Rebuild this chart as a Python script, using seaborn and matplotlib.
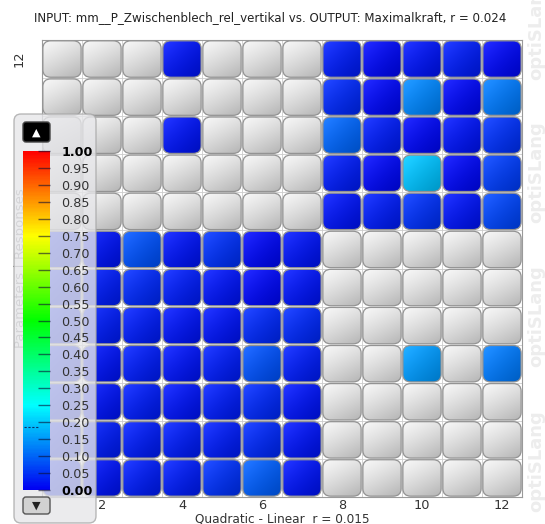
import numpy as np
import pandas as pd
import matplotlib
matplotlib.use("Agg")
import matplotlib.pyplot as plt
import seaborn as sns
from matplotlib.colors import LinearSegmentedColormap
from matplotlib.patches import FancyBboxPatch

# ---------------- data (None = gray / filtered cell) ----------------
col_labels = [str(c) for c in range(1, 13)]
row_labels = [str(r) for r in range(12, 0, -1)]   # top row first

row_12 = [None, None, None, 0.02, None, None, None, 0.03, 0.01, 0.02, 0.03, 0.01]
row_11 = [None, None, None, None, None, None, None, 0.04, 0.01, 0.13, 0.01, 0.12]
row_10 = [None, None, None, 0.02, None, None, None, 0.10, 0.03, 0.01, 0.02, 0.05]
row_9 = [None, None, None, None, None, None, None, 0.03, 0.01, 0.19, 0.01, 0.06]
row_8 = [None, None, None, None, None, None, None, 0.02, 0.03, 0.05, 0.02, 0.07]
row_7 = [0.03, 0.02, 0.08, 0.02, 0.05, 0.01, 0.02, None, None, None, None, None]
row_6 = [0.03, 0.03, 0.04, 0.03, 0.02, 0.01, 0.02, None, None, None, None, None]
row_5 = [0.03, 0.03, 0.03, 0.02, 0.02, 0.04, 0.04, None, None, None, None, None]
row_4 = [0.03, 0.02, 0.03, 0.02, 0.03, 0.08, 0.03, None, None, 0.15, None, 0.12]
row_3 = [0.03, 0.02, 0.03, 0.02, 0.03, 0.04, 0.02, None, None, None, None, None]
row_2 = [0.03, 0.03, 0.03, 0.03, 0.03, 0.04, 0.02, None, None, None, None, None]
row_1 = [0.03, 0.02, 0.03, 0.03, 0.05, 0.09, 0.02, None, None, None, None, None]

cbar_ticks = [round(0.05 * k, 2) for k in range(21)]
threshold = 0.186

title = "INPUT: mm__P_Zwischenblech_rel_vertikal vs. OUTPUT: Maximalkraft, r = 0.024"
xlabel = "Quadratic - Linear  r = 0.015"
ylabel = "Parameters | Responses"

rows = [row_12, row_11, row_10, row_9, row_8, row_7,
        row_6, row_5, row_4, row_3, row_2, row_1]
df = pd.DataFrame([[np.nan if v is None else v for v in r] for r in rows],
                  index=row_labels, columns=col_labels)

# hue-linear blue -> cyan -> green -> yellow -> red
cmap = LinearSegmentedColormap.from_list(
    "optislang",
    [(0.0, (0.0, 0.0, 0.95)), (0.25, (0.0, 1.0, 1.0)), (0.5, (0.0, 1.0, 0.0)),
     (0.75, (1.0, 1.0, 0.0)), (1.0, (1.0, 0.0, 0.0))])

W, H = 545, 524
fig = plt.figure(figsize=(W / 100, H / 100), dpi=100)
fig.patch.set_facecolor("white")
ax = fig.add_axes([42 / W, 27 / H, 480 / W, 457 / H])

sns.heatmap(df, ax=ax, cmap=cmap, vmin=0, vmax=1, cbar=False,
            mask=df.isna(), xticklabels=col_labels, yticklabels=row_labels)
mesh = ax.collections[0]
mesh.set_visible(False)
ax.set_facecolor("white")

nrows, ncols = df.shape
vals = df.values
inset = 0.022
uu, vv = np.meshgrid(np.linspace(0, 1, 24), np.linspace(0, 1, 24))
tt = (uu + vv) / 2.0

for i in range(nrows):
    for j in range(ncols):
        val = vals[i, j]
        patch = FancyBboxPatch((j + inset, i + inset), 1 - 2 * inset, 1 - 2 * inset,
                               boxstyle="round,pad=0,rounding_size=0.2",
                               facecolor="none", edgecolor="#939393",
                               linewidth=0.9, zorder=4)
        ax.add_patch(patch)
        if np.isnan(val):
            g = 0.975 - 0.27 * (0.65 * vv + 0.35 * uu) ** 1.2
            img = np.dstack([g, g, g])
        else:
            c = np.array(mesh.to_rgba(val)[:3])
            shade = (1.08 - 0.3 * tt)[..., None]
            hl = (0.16 * (1 - tt) ** 2)[..., None]
            img = np.clip(c[None, None, :] * shade + (1 - c[None, None, :]) * hl, 0, 1)
        im = ax.imshow(img, extent=(j, j + 1, i + 1, i), origin="upper",
                       interpolation="bilinear", aspect="auto", zorder=3)
        im.set_clip_path(patch)

# faint grid lines through cell joins
for k in range(1, ncols):
    ax.axvline(k, color="#cccccc", lw=0.6, zorder=1)
for k in range(1, nrows):
    ax.axhline(k, color="#cccccc", lw=0.6, zorder=1)

ax.set_xlim(0, ncols)
ax.set_ylim(nrows, 0)
for s in ax.spines.values():
    s.set_visible(True)
    s.set_color("#9a9a9a")
    s.set_linewidth(0.8)

ax.set_xticks(np.arange(1, ncols, 2) + 0.5)
ax.set_xticklabels(col_labels[1::2], rotation=0)
ax.set_yticks([0.5])
ax.set_yticklabels(row_labels[:1], rotation=90, va="center")
ax.tick_params(axis="x", length=0, pad=1.5, labelsize=9.3, labelcolor="#333333")
ax.tick_params(axis="y", length=0, pad=12, labelsize=9.3, labelcolor="#333333")
ax.set_xlabel(xlabel, fontsize=8.7, color="#333333")
ax.xaxis.set_label_coords(0.5, -0.034)
ax.set_ylabel(ylabel, fontsize=9.5, color="#8a8a8a")
ax.yaxis.set_label_coords(-0.032, 0.5)

fig.text(270 / W, 1 - 18 / H, title, ha="center", va="center",
         fontsize=8.6, color="#222222")

# watermark
for yb in [80, 223, 367, 512]:
    fig.text(536 / W, 1 - yb / H, "optiSLang", rotation=90, ha="center",
             va="bottom", fontsize=13, fontweight="bold", color="#ededed")

# translucent legend panel (inch coords)
inch = fig.dpi_scale_trans
def px(x, y):
    return (x / 100, (H - y) / 100)

panel = FancyBboxPatch(px(14, 523), 82 / 100, 409 / 100,
                       boxstyle="round,pad=0,rounding_size=0.07",
                       transform=inch, facecolor=(0.90, 0.90, 0.915),
                       alpha=0.8, edgecolor="#a8a8a8", linewidth=1.0, zorder=5)
fig.patches.append(panel)
panel.set_figure(fig)

up = FancyBboxPatch(px(23, 142), 27 / 100, 20 / 100,
                    boxstyle="round,pad=0,rounding_size=0.03",
                    transform=inch, facecolor="black", edgecolor="#444444",
                    linewidth=1.0, zorder=6)
fig.patches.append(up)
up.set_figure(fig)
fig.text(36.5 / W, 1 - 132.5 / H, "\u25B2", ha="center", va="center",
         fontsize=8, color="white", zorder=7)

down = FancyBboxPatch(px(23, 514), 27 / 100, 17 / 100,
                      boxstyle="round,pad=0,rounding_size=0.03",
                      transform=inch, facecolor="#d2d2d2", edgecolor="#555555",
                      linewidth=1.0, zorder=6)
fig.patches.append(down)
down.set_figure(fig)
fig.text(36.5 / W, 1 - 505.5 / H, "\u25BC", ha="center", va="center",
         fontsize=8, color="#222222", zorder=7)

# colorbar
cax = fig.add_axes([23 / W, (H - 490) / H, 27 / W, 339 / H])
cax.set_zorder(8)
sm = plt.cm.ScalarMappable(norm=mesh.norm, cmap=mesh.cmap)
cb = fig.colorbar(sm, cax=cax)
cb.outline.set_visible(False)
cb.set_ticks(cbar_ticks, labels=[f"{t:.2f}" for t in cbar_ticks])
cax.yaxis.set_ticks_position("right")
cax.tick_params(axis="y", direction="in", length=9, width=1.0,
                color=(0.05, 0.05, 0.2, 0.6), pad=8, labelsize=9.2,
                labelcolor="#333333")
labs = cax.get_yticklabels()
for lab in (labs[0], labs[-1]):
    lab.set_fontweight("bold")
    lab.set_color("black")
cax.axhline(threshold, xmin=0.05, xmax=0.6, color=(0.05, 0.05, 0.25, 0.8),
            lw=0.8, ls=(0, (2, 1.5)))

fig.savefig("out.png", dpi=100, facecolor="white")
